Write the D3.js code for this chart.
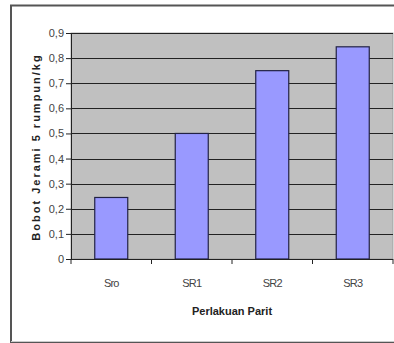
<!DOCTYPE html>
<html><head><meta charset="utf-8">
<script src="https://cdn.jsdelivr.net/npm/d3@7"></script>
<style>body{margin:0;background:#fff}svg{display:block}</style>
</head><body><svg id="c" width="394" height="343"></svg>
<script>
const categories = ["Sro", "SR1", "SR2", "SR3"];
const values = [0.245, 0.5, 0.75, 0.845];
const yTicks = [0, 0.1, 0.2, 0.3, 0.4, 0.5, 0.6, 0.7, 0.8, 0.9];
const xTitle = "Perlakuan Parit";
const yTitle = "Bobot Jerami 5 rumpun/kg";

const svg = d3.select("#c");
const m = {left: 71, top: 33, right: 393, bottom: 259};
// outer frame
svg.append("rect").attr("x", 11).attr("y", 5.5).attr("width", 390).attr("height", 336.5)
  .attr("fill", "none").attr("stroke", "#555").attr("stroke-width", 2);
svg.append("line").attr("x1", 11).attr("x2", 394).attr("y1", 341.5).attr("y2", 341.5)
  .attr("stroke", "#ccc").attr("stroke-width", 1);

const x = d3.scaleBand().domain(categories).range([m.left, m.right]).paddingInner(0.59).paddingOuter(0.295);
const y = d3.scaleLinear().domain([0, 0.9]).range([m.bottom, m.top]);

svg.append("rect").attr("x", m.left).attr("y", m.top).attr("width", m.right - m.left).attr("height", m.bottom - m.top)
  .attr("fill", "#c0c0c0").attr("stroke", "#999").attr("stroke-width", 0.8);

svg.append("g").selectAll("line").data(yTicks.slice(1)).join("line")
  .attr("x1", m.left).attr("x2", m.right)
  .attr("y1", d => Math.round(y(d)) + 0.5).attr("y2", d => Math.round(y(d)) + 0.5)
  .attr("stroke", "#222").attr("stroke-width", 1);

svg.append("g").selectAll("rect").data(values).join("rect")
  .attr("x", (d, i) => x(categories[i]))
  .attr("y", d => y(d))
  .attr("width", x.bandwidth())
  .attr("height", d => m.bottom - y(d))
  .attr("fill", "#9999ff").attr("stroke", "#222244").attr("stroke-width", 1.2);

const fmt = d => d === 0 ? "0" : d3.format(".1f")(d).replace(".", ",");
const ya = svg.append("g").attr("transform", `translate(${m.left},0)`)
  .call(d3.axisLeft(y).tickValues(yTicks).tickFormat(fmt).tickSize(5).tickSizeOuter(0));
ya.select(".domain").attr("stroke", "#222");
ya.selectAll(".tick line").attr("stroke", "#222");
ya.selectAll("text").attr("font-family", "Arial, Liberation Sans, sans-serif").attr("font-size", 11)
  .attr("fill", "#444").attr("dx", 1);

const xBounds = d3.scaleLinear().domain([0, 4]).range([m.left, m.right]);
const xa = svg.append("g").attr("transform", `translate(0,${m.bottom})`);
xa.append("line").attr("x1", m.left).attr("x2", m.right).attr("y1", 0.5).attr("y2", 0.5).attr("stroke", "#222");
xa.selectAll(".tk").data(d3.range(5)).join("line").attr("class", "tk")
  .attr("x1", d => xBounds(d)).attr("x2", d => xBounds(d)).attr("y1", 0).attr("y2", 5).attr("stroke", "#222");
xa.selectAll("text").data(categories).join("text")
  .attr("x", d => x(d) + x.bandwidth() / 2).attr("y", 28)
  .attr("text-anchor", "middle").attr("font-family", "Arial, Liberation Sans, sans-serif")
  .attr("font-size", 11).attr("fill", "#444").attr("letter-spacing", -0.8).text(d => d);

svg.append("text").attr("x", (m.left + m.right) / 2).attr("y", 315).attr("text-anchor", "middle")
  .attr("font-family", "Arial, Liberation Sans, sans-serif").attr("font-weight", "bold").attr("font-size", 11)
  .attr("fill", "#222").text(xTitle);

svg.append("text").attr("transform", `translate(40,147) rotate(-90)`)
  .attr("text-anchor", "middle").attr("font-family", "Arial, Liberation Sans, sans-serif")
  .attr("font-weight", "bold").attr("font-size", 11).attr("letter-spacing", 2)
  .attr("fill", "#222").text(yTitle);
</script></body></html>
